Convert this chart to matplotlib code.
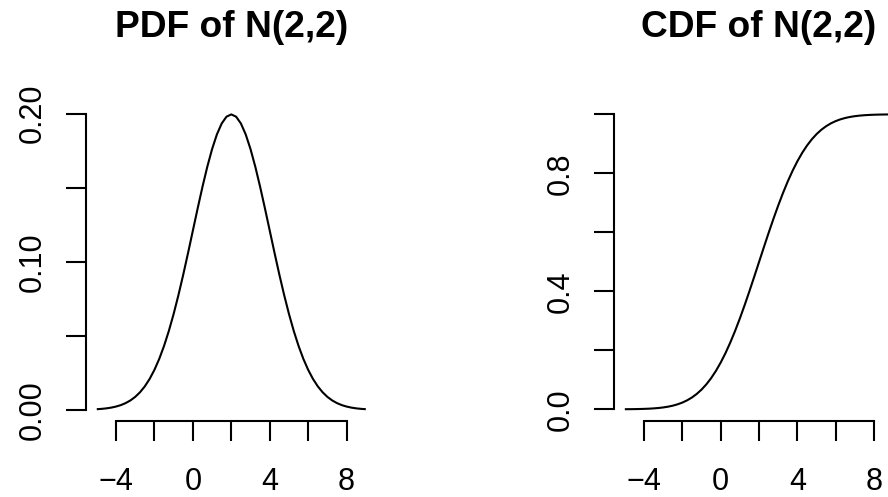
import matplotlib
matplotlib.use("Agg")
import matplotlib.pyplot as plt

plt.rcParams['font.family'] = ['Liberation Sans', 'DejaVu Sans']

# x grid (step 0.25) from -5 to 9
x_vals = [-5 + 0.25 * i for i in range(57)]

# PDF of N(2,2) (symmetric about x = 2)
pdf_half = [0.19947, 0.19792, 0.19333, 0.18593, 0.17603, 0.16408, 0.15057,
            0.13603, 0.12099, 0.10594, 0.09132, 0.07751, 0.06476, 0.05327,
            0.04314, 0.03439, 0.02700, 0.02086, 0.01587, 0.01188, 0.00876,
            0.00636, 0.00455, 0.00320, 0.00222, 0.00151, 0.00101, 0.00067,
            0.00044]
pdf_vals = pdf_half[::-1] + pdf_half[1:]

# CDF of N(2,2)
cdf_upper = [0.50000, 0.54974, 0.59871, 0.64617, 0.69146, 0.73401, 0.77337,
             0.80921, 0.84134, 0.86971, 0.89435, 0.91543, 0.93319, 0.94792,
             0.95994, 0.96960, 0.97725, 0.98321, 0.98778, 0.99123, 0.99379,
             0.99567, 0.99702, 0.99798, 0.99865, 0.99911, 0.99942, 0.99963,
             0.99977]
cdf_vals = [round(1 - v, 5) for v in cdf_upper[::-1]] + cdf_upper[1:]

titles = ["PDF of N(2,2)", "CDF of N(2,2)"]
x_ticks = [-4, -2, 0, 2, 4, 6, 8]
x_ticklabels = ["\u22124", "", "0", "", "4", "", "8"]
pdf_yticks = [0.00, 0.05, 0.10, 0.15, 0.20]
pdf_yticklabels = ["0.00", "", "0.10", "", "0.20"]
cdf_yticks = [0.0, 0.2, 0.4, 0.6, 0.8, 1.0]
cdf_yticklabels = ["0.0", "", "0.4", "", "0.8", ""]

W, H = 888, 497
fig = plt.figure(figsize=(W / 100, H / 100), dpi=100)

def px_axes(left, top, width, height):
    return fig.add_axes([left / W, (H - top - height) / H, width / W, height / H])

ax1 = px_axes(86.0, 102.6, 290.6, 318.4)
ax2 = px_axes(614.1, 102.6, 290.0, 318.4)

def pad_lim(vals):
    lo, hi = min(vals), max(vals)
    r = hi - lo
    return lo - 0.04 * r, hi + 0.04 * r

for ax, yv, title, yt, ytl in [
    (ax1, pdf_vals, titles[0], pdf_yticks, pdf_yticklabels),
    (ax2, cdf_vals, titles[1], cdf_yticks, cdf_yticklabels),
]:
    ax.plot(x_vals, yv, color='black', lw=1.5, solid_capstyle='butt')
    ax.set_xlim(*pad_lim(x_vals))
    ax.set_ylim(*pad_lim(yv))
    for s in ['top', 'right']:
        ax.spines[s].set_visible(False)
    for s in ['left', 'bottom']:
        ax.spines[s].set_linewidth(1.5)
    ax.spines['bottom'].set_bounds(x_ticks[0], x_ticks[-1])
    ax.spines['left'].set_bounds(yt[0], yt[-1])
    ax.set_xticks(x_ticks)
    ax.set_xticklabels(x_ticklabels)
    ax.set_yticks(yt)
    ax.set_yticklabels(ytl, rotation=90, va='center')
    ax.tick_params(axis='both', direction='out', length=14.4, width=1.5,
                   labelsize=22)
    ax.tick_params(axis='x', pad=19)
    ax.tick_params(axis='y', pad=13)
    ax.set_title(title, fontsize=26.7, fontweight='bold', pad=47)
    ax.set_facecolor('none')

fig.savefig("out.png", dpi=100)
